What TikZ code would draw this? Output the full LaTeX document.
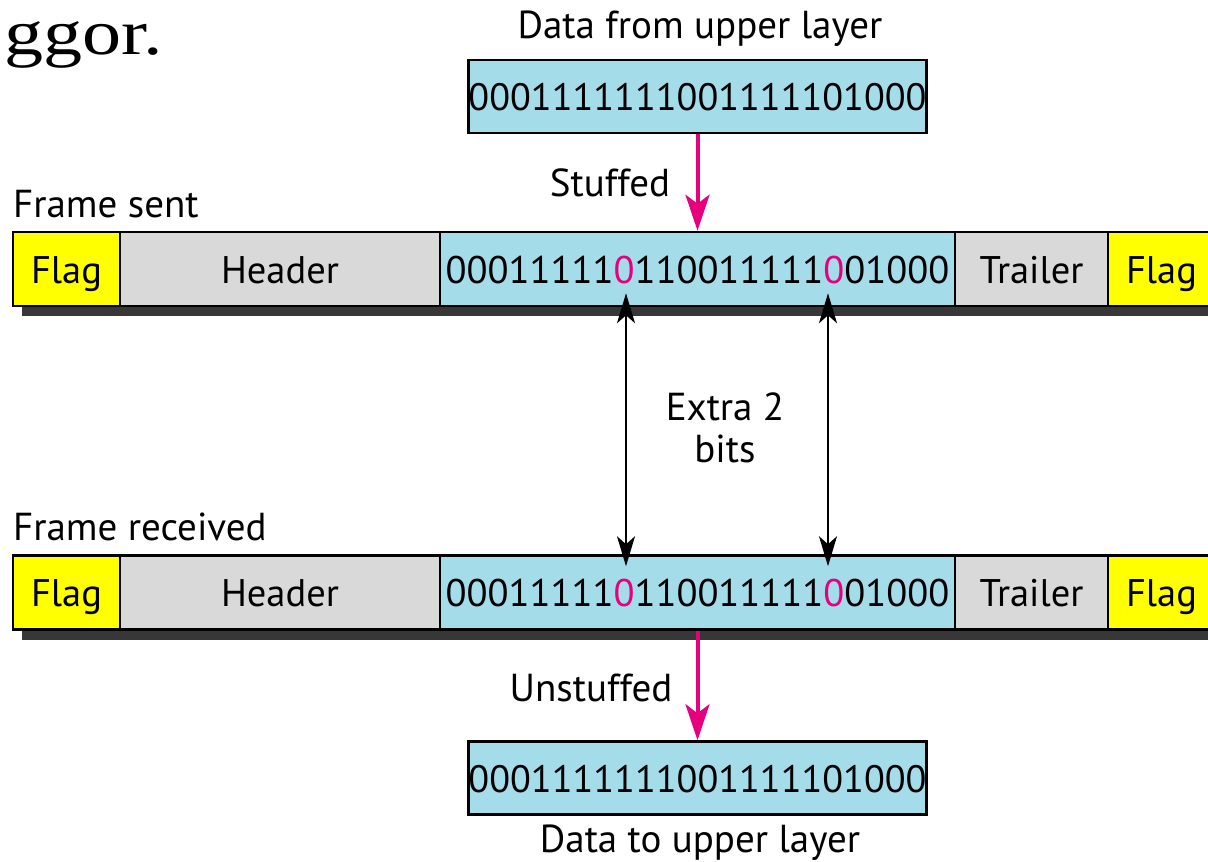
\documentclass[tikz,border=0pt]{standalone}
\usepackage{fontspec}
\setmainfont{PT Sans}
\newfontfamily\slidefont[FakeStretch=1.22]{Liberation Serif}
\usetikzlibrary{arrows.meta}
\definecolor{flagyellow}{RGB}{255,255,0}
\definecolor{cellgray}{RGB}{217,217,217}
\definecolor{datablue}{RGB}{164,220,234}
\definecolor{stuffpink}{RGB}{230,0,126}
\definecolor{shadowgray}{RGB}{55,55,55}
\tikzset{
  cell/.style={draw=black, line width=2.5pt, minimum height=74pt, inner sep=0pt,
    text height=34pt, text depth=6pt, font=\fontsize{38.5}{40}\selectfont},
  flagcell/.style={cell, fill=flagyellow, minimum width=107pt},
  headcell/.style={cell, fill=cellgray, minimum width=320pt},
  datacell/.style={cell, fill=datablue, minimum width=515pt},
  trailcell/.style={cell, fill=cellgray, minimum width=153pt},
  databox/.style={cell, fill=datablue, minimum width=457pt, minimum height=73pt,
    font=\fontsize{38.2}{40}\selectfont},
  label/.style={font=\fontsize{39}{40}\selectfont, inner sep=0pt},
  pinkarrow/.style={draw=stuffpink, line width=4pt,
    -{Stealth[length=36pt, width=24pt, inset=9pt]}},
  bitarrow/.style={line width=2pt,
    {Stealth[length=30pt, width=18pt, inset=8pt]}-{Stealth[length=30pt, width=18pt, inset=8pt]},
    shorten <=-14pt, shorten >=-12pt}
}
\newcommand{\sbit}[1]{\textcolor{stuffpink}{#1}}
\begin{document}
\begin{tikzpicture}[x=1pt,y=-1pt]
   \useasboundingbox (0,0) rectangle (1208,862);
   \clip (0,0) rectangle (1208,862);
   % shadows under the two frames
   \fill[shadowgray] (22,242) rectangle (1230,316);
   \fill[shadowgray] (22,565) rectangle (1230,640);
   % frame sent
   \node[flagcell]  (sflag1) at (66.5,269) {Flag};
   \node[headcell]  (shead)  at (280,269) {Header};
   \node[datacell]  (sdata)  at (697.5,269) {00011111\sbit{0}110011111\sbit{0}01000};
   \node[trailcell] (strail) at (1031.5,269) {Trailer};
   \node[flagcell]  (sflag2) at (1161.5,269) {Flag};
   % frame received
   \node[flagcell]  (rflag1) at (66.5,592.5) {Flag};
   \node[headcell]  (rhead)  at (280,592.5) {Header};
   \node[datacell]  (rdata)  at (697.5,592.5) {00011111\sbit{0}110011111\sbit{0}01000};
   \node[trailcell] (rtrail) at (1031.5,592.5) {Trailer};
   \node[flagcell]  (rflag2) at (1161.5,592.5) {Flag};
   % data boxes
   \node[databox] (upper) at (697.5,96.5) {0001111111001111101000};
   \node[databox] (lower) at (697.5,778) {0001111111001111101000};
   % arrows
   \draw[pinkarrow] (upper.south) -- (sdata.north);
   \draw[pinkarrow] (rdata.south) -- (lower.north);
   \coordinate (bita) at (626,0);
   \coordinate (bitb) at (828,0);
   \draw[bitarrow] (sdata.south -| bita) -- (rdata.north -| bita);
   \draw[bitarrow] (sdata.south -| bitb) -- (rdata.north -| bitb);
   % texts
   \node[label, anchor=base] (fromup) at (700,38) {Data from upper layer};
   \node[label, anchor=base] (stuffed) at (610,196) {Stuffed};
   \node[label, anchor=base west] (sent) at (13,217) {Frame sent};
   \node[label, anchor=base] (extra) at (725,420) {Extra 2};
   \node[label, anchor=base] (bits) at (725,462) {bits};
   \node[label, anchor=base west] (received) at (13,540) {Frame received};
   \node[label, anchor=base] (unstuffed) at (591,701) {Unstuffed};
   \node[label, anchor=base] (toup) at (700,852) {Data to upper layer};
   \node[inner sep=0pt, anchor=base west, font=\slidefont\fontsize{64}{70}\selectfont] (slide) at (4,54) {ggor.};
\end{tikzpicture}
\end{document}
